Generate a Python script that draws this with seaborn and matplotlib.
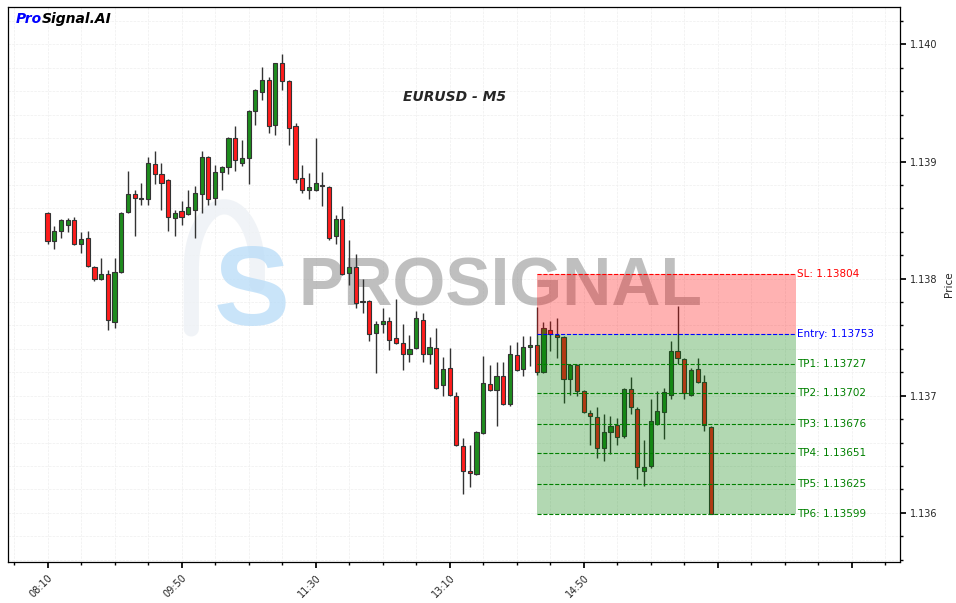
import matplotlib
matplotlib.use("Agg")
import numpy as np
import seaborn as sns
from matplotlib import pyplot as plt
from matplotlib.ticker import MultipleLocator, FuncFormatter, FormatStrFormatter

sns.set_theme(style="white")

symbol = "EURUSD - M5"
start_minutes = 8 * 60 + 10  # 08:10
bar_minutes = 5

opens = [
    1.13856, 1.13832, 1.13841, 1.13846, 1.13850, 1.13830, 1.13835, 1.13810, 1.13800, 1.13804,
    1.13763, 1.13806, 1.13857, 1.13872, 1.13868, 1.13868, 1.13898, 1.13889, 1.13884, 1.13852,
    1.13858, 1.13855, 1.13859, 1.13872, 1.13904, 1.13869, 1.13891, 1.13895, 1.13920, 1.13899,
    1.13903, 1.13943, 1.13959, 1.13970, 1.13931, 1.13984, 1.13969, 1.13930, 1.13886, 1.13876,
    1.13876, 1.13880, 1.13878, 1.13836, 1.13851, 1.13805, 1.13810, 1.13780, 1.13781, 1.13754,
    1.13761, 1.13764, 1.13749, 1.13745, 1.13736, 1.13741, 1.13765, 1.13736, 1.13741, 1.13709,
    1.13724, 1.13700, 1.13657, 1.13636, 1.13633, 1.13668, 1.13710, 1.13705, 1.13717, 1.13693,
    1.13735, 1.13723, 1.13742, 1.13743, 1.13720, 1.13756, 1.13752, 1.13750, 1.13714, 1.13726,
    1.13704, 1.13685, 1.13682, 1.13655, 1.13669, 1.13675, 1.13666, 1.13706, 1.13689, 1.13636,
    1.13640, 1.13676, 1.13686, 1.13701, 1.13738, 1.13731, 1.13701, 1.13723, 1.13712, 1.13673,
]
highs = [
    1.13857, 1.13845, 1.13851, 1.13852, 1.13853, 1.13840, 1.13841, 1.13811, 1.13818, 1.13807,
    1.13818, 1.13857, 1.13892, 1.13876, 1.13882, 1.13904, 1.13909, 1.13899, 1.13885, 1.13859,
    1.13866, 1.13876, 1.13879, 1.13909, 1.13905, 1.13897, 1.13896, 1.13921, 1.13930, 1.13918,
    1.13944, 1.13962, 1.13981, 1.13972, 1.13984, 1.13992, 1.13970, 1.13933, 1.13897, 1.13890,
    1.13920, 1.13891, 1.13879, 1.13854, 1.13862, 1.13833, 1.13821, 1.13800, 1.13782, 1.13764,
    1.13775, 1.13767, 1.13783, 1.13761, 1.13752, 1.13772, 1.13771, 1.13750, 1.13758, 1.13733,
    1.13741, 1.13703, 1.13664, 1.13658, 1.13670, 1.13734, 1.13726, 1.13729, 1.13729, 1.13743,
    1.13746, 1.13751, 1.13751, 1.13776, 1.13763, 1.13764, 1.13766, 1.13751, 1.13727, 1.13727,
    1.13705, 1.13688, 1.13690, 1.13684, 1.13683, 1.13681, 1.13707, 1.13716, 1.13690, 1.13662,
    1.13697, 1.13704, 1.13707, 1.13747, 1.13777, 1.13732, 1.13724, 1.13732, 1.13718, 1.13674,
]
lows = [
    1.13830, 1.13825, 1.13835, 1.13840, 1.13829, 1.13822, 1.13810, 1.13798, 1.13799, 1.13756,
    1.13758, 1.13805, 1.13856, 1.13836, 1.13863, 1.13863, 1.13881, 1.13859, 1.13841, 1.13836,
    1.13846, 1.13854, 1.13835, 1.13856, 1.13863, 1.13863, 1.13876, 1.13889, 1.13892, 1.13896,
    1.13881, 1.13931, 1.13953, 1.13924, 1.13923, 1.13961, 1.13914, 1.13882, 1.13873, 1.13868,
    1.13875, 1.13862, 1.13833, 1.13830, 1.13803, 1.13795, 1.13775, 1.13771, 1.13747, 1.13719,
    1.13754, 1.13739, 1.13744, 1.13722, 1.13729, 1.13740, 1.13729, 1.13727, 1.13706, 1.13700,
    1.13700, 1.13657, 1.13616, 1.13622, 1.13632, 1.13667, 1.13704, 1.13674, 1.13692, 1.13691,
    1.13721, 1.13717, 1.13725, 1.13718, 1.13719, 1.13738, 1.13732, 1.13694, 1.13701, 1.13700,
    1.13685, 1.13658, 1.13647, 1.13644, 1.13650, 1.13658, 1.13664, 1.13684, 1.13629, 1.13623,
    1.13638, 1.13675, 1.13663, 1.13697, 1.13727, 1.13697, 1.13700, 1.13711, 1.13670, 1.13599,
]
closes = [
    1.13832, 1.13841, 1.13850, 1.13850, 1.13830, 1.13834, 1.13811, 1.13800, 1.13804, 1.13765,
    1.13806, 1.13856, 1.13872, 1.13869, 1.13869, 1.13899, 1.13889, 1.13882, 1.13853, 1.13856,
    1.13853, 1.13861, 1.13873, 1.13904, 1.13868, 1.13891, 1.13895, 1.13920, 1.13901, 1.13903,
    1.13943, 1.13961, 1.13970, 1.13930, 1.13984, 1.13969, 1.13929, 1.13885, 1.13876, 1.13878,
    1.13882, 1.13879, 1.13835, 1.13851, 1.13804, 1.13810, 1.13779, 1.13781, 1.13753, 1.13761,
    1.13764, 1.13748, 1.13745, 1.13736, 1.13740, 1.13766, 1.13736, 1.13742, 1.13707, 1.13723,
    1.13701, 1.13658, 1.13636, 1.13634, 1.13669, 1.13711, 1.13705, 1.13717, 1.13693, 1.13736,
    1.13722, 1.13742, 1.13743, 1.13720, 1.13758, 1.13753, 1.13750, 1.13714, 1.13726, 1.13704,
    1.13686, 1.13683, 1.13655, 1.13669, 1.13674, 1.13665, 1.13706, 1.13690, 1.13639, 1.13639,
    1.13678, 1.13687, 1.13703, 1.13738, 1.13732, 1.13702, 1.13722, 1.13712, 1.13675, 1.13599,
]

sl_price = 1.13804
entry_price = 1.13753
tp_prices = [1.13727, 1.13702, 1.13676, 1.13651, 1.13625, 1.13599]
signal_bar = 73

o = np.array(opens)
h = np.array(highs)
l = np.array(lows)
c = np.array(closes)
x = np.arange(len(c))
up = c >= o
colors = np.where(up, "#1e8c1e", "#ff1c1c")

fig = plt.figure(figsize=(9.56, 6.03), dpi=100)
ax = fig.add_axes([8 / 956, 41 / 603, 892 / 956, 555 / 603])

# candles
ax.vlines(x, l, h, color="#333333", linewidth=1.0, zorder=2)
ax.bar(x, np.abs(c - o), bottom=np.minimum(o, c), width=0.62, color=colors,
       edgecolor="#333333", linewidth=0.8, zorder=3)

# trade zone
zone_end = signal_bar + 38.7
ax.fill_between([signal_bar, zone_end], entry_price, sl_price, color="red",
                alpha=0.3, linewidth=0, zorder=4)
ax.fill_between([signal_bar, zone_end], tp_prices[-1], entry_price, color="green",
                alpha=0.3, linewidth=0, zorder=4)
ax.hlines(sl_price, signal_bar, zone_end, colors="red", linestyles="--", linewidth=0.8, zorder=5)
ax.hlines(entry_price, signal_bar, zone_end, colors="blue", linestyles="--", linewidth=0.8, zorder=5)
ax.hlines(tp_prices, signal_bar, zone_end, colors="green", linestyles="--", linewidth=0.8, zorder=5)

lx = zone_end + 0.1
ax.text(lx, sl_price, f"SL: {sl_price:.5f}", color="red", fontsize=7.5, va="center", zorder=6)
ax.text(lx, entry_price, f"Entry: {entry_price:.5f}", color="blue", fontsize=7.5, va="center", zorder=6)
for i, tp in enumerate(tp_prices, start=1):
    ax.text(lx, tp, f"TP{i}: {tp:.5f}", color="green", fontsize=7.5, va="center", zorder=6)

# watermark: faint arch + blue S + brand word
t = np.linspace(np.pi, 0, 40)
arch_x = np.concatenate([[0.2055, 0.2055], 0.2425 + 0.037 * np.cos(t), [0.2795]])
arch_y = np.concatenate([[0.42, 0.53], 0.53 + 0.11 * np.sin(t), [0.50]])
ax.plot(arch_x, arch_y, transform=ax.transAxes, color="#edf1f5", linewidth=11,
        solid_capstyle="round", alpha=0.8, zorder=1)
ax.text(0.2735, 0.479, "S", transform=ax.transAxes, fontsize=82, fontweight="bold",
        family="Liberation Sans", color="#b8dcf8", alpha=0.75, ha="center", va="center", zorder=1)
ax.text(0.5516, 0.494, "PROSIGNAL", transform=ax.transAxes, fontsize=49,
        fontweight="bold", family="Liberation Sans", color="#8c8c8c", alpha=0.55,
        ha="center", va="center", zorder=1)

# titles
ax.text(0.5, 0.838, symbol, transform=ax.transAxes, fontsize=10, fontweight="bold",
        fontstyle="italic", ha="center", va="center", zorder=6)
brand = ax.text(0.009, 0.978, "Pro", transform=ax.transAxes, fontsize=10, fontweight="bold",
                fontstyle="italic", color="blue", va="center", ha="left", zorder=6)
ax.annotate("Signal.AI", xy=(1, 0.5), xycoords=brand, fontsize=10, fontweight="bold",
            fontstyle="italic", color="black", va="center", ha="left", zorder=6)

# axes
ax.set_xlim(-5.9, 127.2)
ax.set_ylim(1.13558, 1.14032)

ax.xaxis.set_major_locator(MultipleLocator(20))
ax.xaxis.set_minor_locator(MultipleLocator(5))


def time_label(v, pos):
    i = int(round(v))
    if 0 <= i < len(c):
        m = start_minutes + i * bar_minutes
        return f"{m // 60:02d}:{m % 60:02d}"
    return ""


ax.xaxis.set_major_formatter(FuncFormatter(time_label))
ax.yaxis.set_major_locator(MultipleLocator(0.001))
ax.yaxis.set_minor_locator(MultipleLocator(0.0002))
ax.yaxis.set_major_formatter(FormatStrFormatter("%.3f"))
ax.yaxis.tick_right()
ax.yaxis.set_label_position("right")
ax.set_ylabel("Price", fontsize=7.5)

ax.tick_params(which="both", bottom=True, right=True, left=False, direction="out", color="black")
ax.tick_params(which="major", length=4, labelsize=7)
ax.tick_params(which="minor", length=2.5)
plt.setp(ax.get_xticklabels(), rotation=45, ha="right", rotation_mode="anchor")

ax.grid(which="both", color="#efefef", linestyle="--", linewidth=0.5)
ax.set_axisbelow(True)
for s in ax.spines.values():
    s.set_color("black")
    s.set_linewidth(0.9)

fig.savefig("out.png", dpi=100)
